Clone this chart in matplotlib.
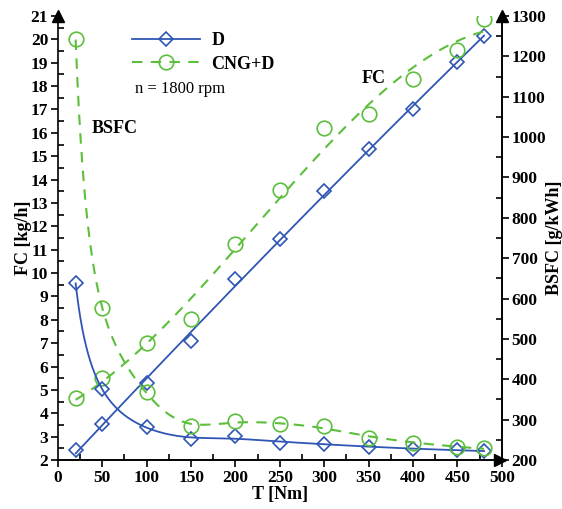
import numpy as np
import matplotlib.pyplot as plt
from matplotlib.ticker import MultipleLocator

plt.rcParams['font.family'] = ['Liberation Serif', 'DejaVu Serif']

torque = [20, 50, 100, 150, 200, 250, 300, 350, 400, 450, 480]
fc_d = [2.43, 3.54, 5.31, 7.1, 9.73, 11.44, 13.52, 15.29, 17.02, 19.04, 20.16]
fc_cng = [4.64, 5.5, 7.02, 8.02, 11.24, 13.55, 16.22, 16.8, 18.29, 19.54, 20.86]
bsfc_d = [638, 375, 281, 251, 259, 243, 240, 233, 227, 225, 222]
bsfc_cng = [1242, 576, 369, 283, 297, 289, 284, 255, 243, 232, 229]

BLUE = '#2f55b5'
GREEN = '#5cbf3c'

x = np.array(torque, dtype=float)
xs = np.linspace(x.min(), x.max(), 400)


def fit_fc(y, deg):
    return np.polyval(np.polyfit(x, y, deg), xs)


def smooth_bsfc(y, s):
    # discrete smoothing spline in log-log space
    lx, ly = np.log(x), np.log(y)
    g = np.linspace(lx[0], lx[-1], 300)
    h = g[1] - g[0]
    B = np.zeros((len(x), len(g)))
    for i, v in enumerate(lx):
        j = min(int((v - g[0]) / h), len(g) - 2)
        t = (v - g[j]) / h
        B[i, j], B[i, j + 1] = 1 - t, t
    D = np.diff(np.eye(len(g)), 2, axis=0)
    z = np.linalg.solve(B.T @ B + s / h**3 * D.T @ D, B.T @ ly)
    return np.exp(g), np.exp(z)


fig = plt.figure(figsize=(5.62, 5.09), dpi=100)
ax = fig.add_axes([0.103, 0.0963, 0.790, 0.8723])
ax2 = ax.twinx()

mk = dict(markerfacecolor='none', markeredgewidth=1.2)

# FC on left axis
ax.plot(xs, fit_fc(fc_d, 2), color=BLUE, lw=1.3)
ax.plot(x, fc_d, 'D', color=BLUE, markersize=7, **mk)
ax.plot(xs, fit_fc(fc_cng, 3), color=GREEN, lw=1.5, ls=(0, (5, 4)))
ax.plot(x, fc_cng, 'o', color=GREEN, markersize=10.5, **mk)

# BSFC on right axis
ax2.plot(*smooth_bsfc(bsfc_d, 0.003), color=BLUE, lw=1.3)
ax2.plot(x, bsfc_d, 'D', color=BLUE, markersize=7, **mk)
ax2.plot(*smooth_bsfc(bsfc_cng, 0.001), color=GREEN, lw=1.5, ls=(0, (5, 4)))
ax2.plot(x, bsfc_cng, 'o', color=GREEN, markersize=10.5, **mk)

ax.set_xlim(0, 500)
ax.set_ylim(2, 21)
ax2.set_ylim(200, 1300)

ax.xaxis.set_major_locator(MultipleLocator(50))
ax.xaxis.set_minor_locator(MultipleLocator(25))
ax.yaxis.set_major_locator(MultipleLocator(1))
ax.yaxis.set_minor_locator(MultipleLocator(0.5))
ax2.yaxis.set_major_locator(MultipleLocator(100))
ax2.yaxis.set_minor_locator(MultipleLocator(50))

for a in (ax, ax2):
    a.spines['top'].set_visible(False)
    for s in a.spines.values():
        s.set_linewidth(1.2)
    a.tick_params(which='major', direction='out', length=5, width=1.2,
                  labelsize=12.5, pad=2)
    a.tick_params(which='minor', direction='in', length=4, width=1.2)
ax.tick_params(axis='y', which='minor', right=False)
ax2.spines['left'].set_visible(False)
for lbl in ax.get_xticklabels() + ax.get_yticklabels() + ax2.get_yticklabels():
    lbl.set_fontweight('bold')

ax.set_xlabel('T [Nm]', fontsize=13, fontweight='bold', labelpad=0)
ax.set_ylabel('FC [kg/h]', fontsize=13, fontweight='bold', labelpad=-1)
ax2.set_ylabel('BSFC [g/kWh]', fontsize=13, fontweight='bold', labelpad=0)

# axis arrows
ax.plot([0], [1], '^', color='black', markersize=8, transform=ax.transAxes, clip_on=False)
ax.plot([1], [1], '^', color='black', markersize=8, transform=ax.transAxes, clip_on=False)
ax.plot([0.995], [0], '>', color='black', markersize=8, transform=ax.transAxes, clip_on=False)

# legend
ax.plot([], [], color=BLUE, lw=1.3, marker='D', markersize=7, label='D', **mk)
ax.plot([], [], color=GREEN, lw=1.5, ls=(0, (5, 4)), marker='o', markersize=10.5,
        label='CNG+D', **mk)
handles, labels = ax.get_legend_handles_labels()
ax.legend(handles[-2:], labels[-2:], loc='upper left', bbox_to_anchor=(0.13, 1.0),
          frameon=False, handlelength=3.8, handletextpad=0.6,
          prop={'weight': 'bold', 'size': 13}, labelspacing=0.35)

ax.text(0.173, 0.826, 'n = 1800 rpm', transform=ax.transAxes, fontsize=12)
ax.text(0.075, 0.737, 'BSFC', transform=ax.transAxes, fontsize=13, fontweight='bold')
ax.text(0.685, 0.85, 'FC', transform=ax.transAxes, fontsize=13, fontweight='bold')

fig.savefig('out.png', dpi=100)
